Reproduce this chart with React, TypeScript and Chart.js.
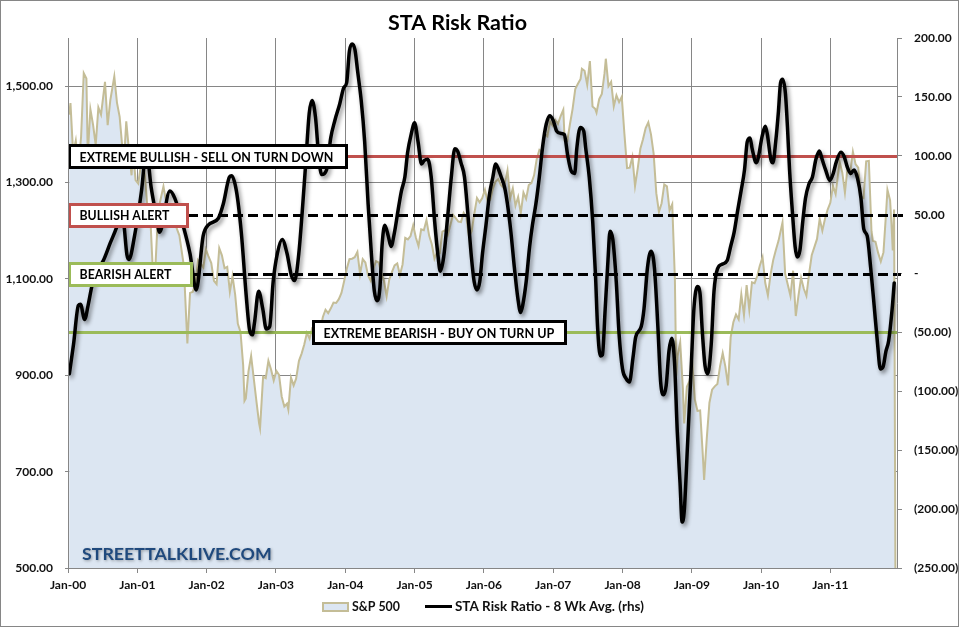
import React, { useEffect, useRef } from 'react';
import { Chart, registerables } from 'chart.js';

Chart.register(...registerables);

// ---------------- data ----------------
const TITLE = 'STA Risk Ratio';
const SP_LABEL = 'S&P 500';
const RISK_LABEL = 'STA Risk Ratio - 8 Wk Avg. (rhs)';
const WATERMARK = 'STREETTALKLIVE.COM';

const X_TICK_YEARS = [0, 1, 2, 3, 4, 5, 6, 7, 8, 9, 10, 11];
const X_TICK_LABELS = ['Jan-00', 'Jan-01', 'Jan-02', 'Jan-03', 'Jan-04', 'Jan-05', 'Jan-06', 'Jan-07', 'Jan-08', 'Jan-09', 'Jan-10', 'Jan-11'];
const LEFT_TICKS = [500, 700, 900, 1100, 1300, 1500];
const RIGHT_TICKS = [-250, -200, -150, -100, -50, 0, 50, 100, 150, 200];

const THRESHOLD_VALUES = [100, 50, 0, -50];
const THRESHOLD_LABELS = ['EXTREME BULLISH - SELL ON TURN DOWN', 'BULLISH ALERT', 'BEARISH ALERT', 'EXTREME BEARISH - BUY ON TURN UP'];

// S&P 500 (weekly closes, thinned)
const spDates = [
  '2000-01-07', '2000-01-14', '2000-01-28', '2000-02-11', '2000-02-25', '2000-03-10', '2000-03-24', '2000-04-07', '2000-04-14', '2000-04-28', '2000-05-12', '2000-05-26', '2000-06-09', '2000-06-23', '2000-07-14', '2000-07-28', '2000-08-11', '2000-09-01', '2000-09-15', '2000-09-29', '2000-10-13', '2000-10-27', '2000-11-03', '2000-11-17', '2000-12-01', '2000-12-08', '2000-12-22',
  '2001-01-05', '2001-01-26', '2001-02-09', '2001-02-23', '2001-03-09', '2001-03-23', '2001-04-06', '2001-04-20', '2001-05-18', '2001-06-01', '2001-06-15', '2001-06-29', '2001-07-13', '2001-07-27', '2001-08-10', '2001-08-31', '2001-09-07', '2001-09-21', '2001-10-05', '2001-10-19', '2001-11-02', '2001-11-16', '2001-12-14', '2001-12-28',
  '2002-01-11', '2002-01-25', '2002-02-08', '2002-02-22', '2002-03-08', '2002-03-22', '2002-04-05', '2002-04-19', '2002-05-03', '2002-05-17', '2002-05-31', '2002-06-14', '2002-06-28', '2002-07-12', '2002-07-19', '2002-07-26', '2002-08-09', '2002-08-23', '2002-09-06', '2002-09-20', '2002-10-04', '2002-10-09', '2002-10-25', '2002-11-08', '2002-11-22', '2002-12-06', '2002-12-20',
  '2003-01-03', '2003-01-17', '2003-01-31', '2003-02-14', '2003-02-28', '2003-03-07', '2003-03-21', '2003-04-04', '2003-04-17', '2003-05-02', '2003-05-16', '2003-05-30', '2003-06-13', '2003-06-27', '2003-07-11', '2003-07-25', '2003-08-08', '2003-08-22', '2003-09-05', '2003-09-19', '2003-10-03', '2003-10-17', '2003-10-31', '2003-11-14', '2003-11-28', '2003-12-12', '2003-12-26',
  '2004-01-09', '2004-01-23', '2004-02-06', '2004-02-20', '2004-03-05', '2004-03-19', '2004-04-02', '2004-04-16', '2004-04-30', '2004-05-14', '2004-05-28', '2004-06-11', '2004-06-25', '2004-07-09', '2004-07-23', '2004-08-06', '2004-08-20', '2004-09-03', '2004-09-17', '2004-10-01', '2004-10-15', '2004-10-29', '2004-11-12', '2004-11-26', '2004-12-10', '2004-12-24',
  '2005-01-07', '2005-01-21', '2005-02-04', '2005-02-18', '2005-03-04', '2005-03-18', '2005-04-01', '2005-04-15', '2005-04-29', '2005-05-13', '2005-05-27', '2005-06-10', '2005-06-24', '2005-07-08', '2005-07-22', '2005-08-05', '2005-08-19', '2005-09-02', '2005-09-16', '2005-09-30', '2005-10-14', '2005-10-28', '2005-11-11', '2005-11-25', '2005-12-09', '2005-12-23',
  '2006-01-06', '2006-01-20', '2006-02-03', '2006-02-17', '2006-03-03', '2006-03-17', '2006-03-31', '2006-04-14', '2006-04-28', '2006-05-05', '2006-05-19', '2006-06-02', '2006-06-16', '2006-06-30', '2006-07-14', '2006-07-28', '2006-08-11', '2006-08-25', '2006-09-08', '2006-09-22', '2006-10-06', '2006-10-20', '2006-11-03', '2006-11-17', '2006-12-01', '2006-12-15', '2006-12-29',
  '2007-01-12', '2007-01-26', '2007-02-09', '2007-02-23', '2007-03-02', '2007-03-16', '2007-03-30', '2007-04-13', '2007-04-27', '2007-05-11', '2007-05-25', '2007-06-01', '2007-06-15', '2007-06-29', '2007-07-13', '2007-07-27', '2007-08-10', '2007-08-17', '2007-08-31', '2007-09-14', '2007-09-28', '2007-10-05', '2007-10-19', '2007-11-02', '2007-11-16', '2007-11-30', '2007-12-14', '2007-12-28',
  '2008-01-11', '2008-01-25', '2008-02-08', '2008-02-22', '2008-03-07', '2008-03-21', '2008-04-04', '2008-04-18', '2008-05-02', '2008-05-16', '2008-05-30', '2008-06-13', '2008-06-27', '2008-07-11', '2008-07-25', '2008-08-08', '2008-08-22', '2008-09-05', '2008-09-19', '2008-10-03', '2008-10-10', '2008-10-17', '2008-10-31', '2008-11-14', '2008-11-21', '2008-12-05', '2008-12-19',
  '2009-01-02', '2009-01-16', '2009-01-30', '2009-02-13', '2009-02-27', '2009-03-06', '2009-03-20', '2009-04-03', '2009-04-17', '2009-05-01', '2009-05-15', '2009-05-29', '2009-06-12', '2009-06-26', '2009-07-10', '2009-07-24', '2009-08-07', '2009-08-21', '2009-09-04', '2009-09-18', '2009-10-02', '2009-10-16', '2009-10-30', '2009-11-13', '2009-11-27', '2009-12-11', '2009-12-24',
  '2010-01-08', '2010-01-22', '2010-02-05', '2010-02-19', '2010-03-05', '2010-03-19', '2010-04-02', '2010-04-23', '2010-05-07', '2010-05-21', '2010-06-04', '2010-06-18', '2010-07-02', '2010-07-16', '2010-07-30', '2010-08-13', '2010-08-27', '2010-09-10', '2010-09-24', '2010-10-08', '2010-10-22', '2010-11-05', '2010-11-19', '2010-12-03', '2010-12-17', '2010-12-31',
  '2011-01-14', '2011-01-28', '2011-02-18', '2011-03-04', '2011-03-18', '2011-04-01', '2011-04-15', '2011-04-29', '2011-05-13', '2011-05-27', '2011-06-10', '2011-06-24', '2011-07-08', '2011-07-22', '2011-08-05', '2011-08-12', '2011-08-26', '2011-09-09', '2011-09-23', '2011-10-07', '2011-10-21', '2011-10-28', '2011-11-11', '2011-11-18', '2011-11-25', '2011-12-02', '2011-12-09',
];
const spValues = [
  1441, 1465, 1360, 1387, 1333, 1395, 1527, 1516, 1357, 1452, 1420, 1378, 1456, 1441, 1509, 1419, 1471, 1520, 1466, 1437, 1374, 1379, 1427, 1367, 1315, 1370, 1305,
  1298, 1355, 1315, 1246, 1234, 1117, 1128, 1242, 1292, 1260, 1214, 1224, 1215, 1205, 1190, 1134, 1086, 966, 1071, 1073, 1087, 1139, 1124, 1161,
  1146, 1133, 1096, 1089, 1164, 1149, 1122, 1125, 1073, 1106, 1067, 1007, 990, 921, 847, 852, 908, 940, 893, 846, 800, 790, 897, 894, 930, 912, 889,
  909, 901, 856, 835, 841, 829, 895, 879, 893, 930, 945, 964, 988, 976, 998, 998, 977, 993, 1021, 1036, 1029, 1039, 1051, 1050, 1058, 1071, 1095,
  1121, 1141, 1142, 1145, 1156, 1110, 1141, 1134, 1107, 1096, 1121, 1137, 1134, 1112, 1096, 1064, 1099, 1114, 1128, 1132, 1108, 1130, 1185, 1182, 1189, 1211,
  1186, 1168, 1203, 1201, 1222, 1190, 1172, 1142, 1156, 1154, 1198, 1201, 1191, 1212, 1233, 1226, 1219, 1218, 1237, 1229, 1187, 1199, 1235, 1268, 1259, 1268,
  1285, 1261, 1264, 1288, 1302, 1307, 1295, 1289, 1311, 1325, 1267, 1288, 1252, 1270, 1236, 1279, 1266, 1295, 1299, 1315, 1349, 1368, 1364, 1401, 1396, 1427, 1418,
  1430, 1422, 1438, 1451, 1387, 1386, 1421, 1453, 1494, 1505, 1515, 1536, 1532, 1503, 1552, 1458, 1453, 1445, 1473, 1484, 1526, 1557, 1500, 1509, 1458, 1481, 1467, 1478,
  1401, 1330, 1331, 1353, 1293, 1329, 1370, 1390, 1413, 1425, 1400, 1360, 1278, 1239, 1257, 1296, 1292, 1242, 1255, 1099, 899, 940, 968, 873, 800, 876, 888,
  931, 850, 826, 827, 735, 683, 769, 843, 870, 877, 882, 919, 946, 918, 879, 979, 1010, 1026, 1016, 1068, 1025, 1087, 1036, 1093, 1091, 1106, 1127,
  1145, 1092, 1066, 1109, 1139, 1160, 1179, 1217, 1111, 1088, 1065, 1117, 1023, 1065, 1102, 1080, 1065, 1110, 1149, 1166, 1183, 1225, 1200, 1225, 1244, 1258,
  1293, 1276, 1343, 1321, 1279, 1332, 1320, 1364, 1338, 1331, 1271, 1268, 1344, 1345, 1199, 1179, 1177, 1154, 1136, 1155, 1238, 1285, 1263, 1216, 1159, 1244, 500,
];

// STA Risk Ratio 8-week average (years since Jan-2000 / value)
const riskTimes = [
  0.02, 0.08, 0.15, 0.18, 0.24, 0.29, 0.34, 0.39, 0.51, 0.61, 0.70, 0.76, 0.80, 0.85, 0.88, 0.96,
  1.06, 1.13, 1.20, 1.28, 1.32, 1.47, 1.54, 1.66, 1.76, 1.85, 1.95,
  2.02, 2.17, 2.24, 2.33, 2.36, 2.43, 2.50, 2.57, 2.62, 2.66, 2.69, 2.75, 2.81, 2.86, 2.91, 2.96,
  3.02, 3.09, 3.16, 3.22, 3.27, 3.33, 3.38, 3.43, 3.48, 3.52, 3.57, 3.62, 3.66, 3.73, 3.79, 3.85, 3.92, 3.98,
  4.02, 4.06, 4.10, 4.14, 4.18, 4.23, 4.28, 4.33, 4.38, 4.42, 4.46, 4.50, 4.53, 4.57, 4.62, 4.66, 4.71, 4.76, 4.81, 4.86, 4.90, 4.95,
  5.00, 5.05, 5.10, 5.14, 5.19, 5.24, 5.29, 5.34, 5.37, 5.42, 5.48, 5.53, 5.58, 5.62, 5.67, 5.72, 5.77, 5.82, 5.86, 5.90, 5.94, 5.98,
  6.03, 6.08, 6.13, 6.17, 6.20, 6.25, 6.30, 6.34, 6.39, 6.44, 6.49, 6.53, 6.56, 6.61, 6.66, 6.70, 6.75, 6.80, 6.85, 6.90, 6.95,
  7.00, 7.05, 7.11, 7.16, 7.21, 7.26, 7.31, 7.34, 7.39, 7.44, 7.47, 7.52, 7.57, 7.61, 7.64, 7.68, 7.71, 7.75, 7.79, 7.82, 7.86, 7.91, 7.95,
  8.00, 8.05, 8.10, 8.15, 8.19, 8.27, 8.31, 8.36, 8.41, 8.46, 8.51, 8.55, 8.59, 8.63, 8.67, 8.71, 8.75, 8.79, 8.83, 8.86, 8.89, 8.94, 8.99,
  9.03, 9.08, 9.12, 9.15, 9.19, 9.23, 9.28, 9.32, 9.37, 9.44, 9.51, 9.56, 9.61, 9.66, 9.71, 9.76, 9.80, 9.84, 9.87, 9.93,
  10.02, 10.06, 10.09, 10.14, 10.17, 10.21, 10.25, 10.28, 10.31, 10.35, 10.38, 10.41, 10.45, 10.49, 10.52, 10.56, 10.60, 10.64, 10.69, 10.74, 10.79, 10.84, 10.88, 10.93, 10.99,
  11.04, 11.08, 11.15, 11.20, 11.24, 11.29, 11.34, 11.39, 11.44, 11.48, 11.53, 11.58, 11.63, 11.68, 11.72, 11.76, 11.80, 11.84, 11.89, 11.92,
];
const riskValues = [
  -85, -60, -27, -26, -39, -27, -12, -1, 11, 26, 39, 50, 45, 16, 12, 32,
  70, 105, 73, 47, 35, 70, 64, 41, 17, -14, 32,
  41, 47, 59, 82, 83, 70, 35, -18, -48, -52, -42, -15, -30, -47, -45, -7,
  17, 29, 17, -1, -6, 17, 53, 94, 136, 147, 133, 97, 84, 88, 115, 130, 144, 158,
  162, 189, 195, 190, 171, 147, 112, 59, 14, -15, -23, -12, 23, 41, 32, 23, 35, 53, 70, 82, 103, 118,
  128, 112, 93, 96, 97, 82, 44, 14, 2, 14, 50, 82, 106, 104, 94, 82, 50, 14, -7, -14, -7, 17,
  41, 67, 82, 93, 90, 82, 73, 59, 35, 5, -21, -33, -27, -7, 23, 41, 59, 82, 109, 127, 134,
  130, 121, 119, 118, 100, 87, 85, 106, 124, 121, 106, 82, 44, -1, -45, -70, -69, -30, 11, 36, 29, -7, -51,
  -81, -89, -92, -72, -54, -45, -30, 5, 19, 5, -45, -92, -103, -95, -66, -55, -75, -134, -178, -211, -202, -143, -81,
  -30, -11, -18, -48, -78, -85, -60, -15, 4, 8, 11, 23, 35, 53, 70, 88, 112, 115, 106, 94,
  118, 125, 118, 97, 94, 112, 138, 162, 165, 153, 124, 88, 53, 23, 14, 20, 44, 64, 76, 82, 97, 104, 97, 88, 79,
  85, 94, 103, 99, 91, 85, 88, 81, 64, 38, 32, 5, -27, -60, -81, -79, -66, -57, -30, -8,
];

// ---------------- styles ----------------
const W = 965;
const H = 632;
const FONT = 'Lato, "Open Sans", sans-serif';
const TEXT = '#111111';
const GRID = '#868686';
const AREA_FILL = '#DCE6F2';
const AREA_LINE = '#C4BD97';
const X_MAX = 11.96;
const LINE_STYLES = [
  { color: '#C0504D', width: 3, dash: [] as number[], extend: 1 },
  { color: '#000000', width: 3, dash: [10, 5], extend: 6 },
  { color: '#000000', width: 3, dash: [10, 5], extend: 4 },
  { color: '#9BBB59', width: 3, dash: [] as number[], extend: 1 },
];
const BOX_STYLES = [
  { border: '#000000', offset: 0, width: 280, textWidth: 254 },
  { border: '#C0504D', offset: 0, width: 121, textWidth: 90 },
  { border: '#9BBB59', offset: 0, width: 125, textWidth: 92 },
  { border: '#000000', offset: 244, width: 255, textWidth: 231 },
];

function toYears(d: string) {
  const [y, m, dd] = d.split('-').map(Number);
  return (Date.UTC(y, m - 1, dd) - Date.UTC(2000, 0, 1)) / (365.25 * 86400000);
}

function fitFont(ctx: CanvasRenderingContext2D, text: string, target: number) {
  ctx.font = `bold 100px ${FONT}`;
  const size = (100 * target) / ctx.measureText(text).width;
  return `bold ${size.toFixed(2)}px ${FONT}`;
}

function leftFmt(v: number) {
  return v.toLocaleString('en-US', { minimumFractionDigits: 2, maximumFractionDigits: 2 });
}
function rightFmt(v: number) {
  if (v === 0) return '-';
  if (v < 0) return `(${Math.abs(v).toFixed(2)})`;
  return v.toFixed(2);
}

const overlayPlugin = {
  id: 'overlay',
  beforeDraw(chart: any) {
    const { ctx } = chart;
    ctx.save();
    ctx.fillStyle = '#ffffff';
    ctx.fillRect(0, 0, chart.width, chart.height);
    ctx.restore();
  },
  beforeDatasetDraw(chart: any, args: any) {
    if (args.index !== 0) return;
    const { ctx, chartArea: a, scales } = chart;
    ctx.save();
    THRESHOLD_VALUES.forEach((v, i) => {
      const st = LINE_STYLES[i];
      const y = Math.round(scales.y1.getPixelForValue(v)) + 0.5;
      ctx.beginPath();
      ctx.setLineDash(st.dash);
      ctx.strokeStyle = st.color;
      ctx.lineWidth = st.width;
      ctx.moveTo(a.left, y);
      ctx.lineTo(a.right + st.extend, y);
      ctx.stroke();
    });
    ctx.restore();
    ctx.save();
    ctx.shadowColor = 'rgba(0,0,0,0.45)';
    ctx.shadowBlur = 4;
    ctx.shadowOffsetX = 2;
    ctx.shadowOffsetY = 3;
  },
  afterDatasetDraw(chart: any, args: any) {
    if (args.index === 0) chart.ctx.restore();
  },
  afterDatasetsDraw(chart: any) {
    const { ctx, chartArea: a, scales } = chart;
    // watermark
    ctx.save();
    ctx.font = fitFont(ctx, WATERMARK, 190);
    ctx.textBaseline = 'middle';
    ctx.textAlign = 'left';
    ctx.shadowColor = 'rgba(0,0,0,0.35)';
    ctx.shadowBlur = 3;
    ctx.shadowOffsetX = 1;
    ctx.shadowOffsetY = 1;
    ctx.fillStyle = '#1F497D';
    ctx.fillText(WATERMARK, a.left + 14, a.bottom - 14);
    ctx.restore();
    // annotation boxes
    THRESHOLD_LABELS.forEach((label, i) => {
      const st = BOX_STYLES[i];
      const cy = Math.round(scales.y1.getPixelForValue(THRESHOLD_VALUES[i]));
      const x = a.left + st.offset;
      ctx.save();
      ctx.fillStyle = '#ffffff';
      ctx.fillRect(x, cy - 12, st.width, 25);
      ctx.strokeStyle = st.border;
      ctx.lineWidth = 3;
      ctx.strokeRect(x + 1.5, cy - 10.5, st.width - 3, 22);
      ctx.font = fitFont(ctx, label, st.textWidth);
      ctx.fillStyle = '#000000';
      ctx.textBaseline = 'middle';
      ctx.textAlign = 'left';
      ctx.fillText(label, x + 11.5, cy + 1.5);
      ctx.restore();
    });
  },
  afterDraw(chart: any) {
    const { ctx } = chart;
    ctx.save();
    // title
    ctx.font = fitFont(ctx, TITLE, 139);
    ctx.fillStyle = '#000000';
    ctx.textAlign = 'center';
    ctx.textBaseline = 'middle';
    ctx.fillText(TITLE, 457.5, 23);
    // legend
    const ly = 606.5;
    ctx.fillStyle = AREA_FILL;
    ctx.fillRect(323, 603, 25, 8);
    ctx.strokeStyle = AREA_LINE;
    ctx.lineWidth = 2;
    ctx.strokeRect(323, 603, 25, 8);
    ctx.font = fitFont(ctx, SP_LABEL, 48);
    ctx.fillStyle = TEXT;
    ctx.textAlign = 'left';
    ctx.fillText(SP_LABEL, 352, ly + 0.5);
    ctx.beginPath();
    ctx.strokeStyle = '#000000';
    ctx.lineWidth = 3;
    ctx.moveTo(425, ly);
    ctx.lineTo(452, ly);
    ctx.stroke();
    ctx.font = fitFont(ctx, RISK_LABEL, 189);
    ctx.fillText(RISK_LABEL, 455, ly + 0.5);
    // outer border
    ctx.strokeStyle = GRID;
    ctx.lineWidth = 1;
    ctx.strokeRect(0.5, 0.5, 958, 626);
    ctx.restore();
  },
};

export default function App() {
  const ref = useRef<HTMLCanvasElement | null>(null);

  useEffect(() => {
    if (!ref.current) return;
    const spData = spDates.map((d, i) => ({ x: toYears(d), y: spValues[i] }));
    const riskData = riskTimes.map((t, i) => ({ x: t, y: riskValues[i] }));
    const tickFont = { family: FONT, size: 12, weight: 'bold' as const };

    const chart = new Chart(ref.current, {
      type: 'line',
      data: {
        datasets: [
          {
            label: RISK_LABEL,
            data: riskData,
            yAxisID: 'y1',
            borderColor: '#000000',
            borderWidth: 3.5,
            pointRadius: 0,
            fill: false,
            cubicInterpolationMode: 'monotone',
            borderCapStyle: 'round',
            borderJoinStyle: 'round',
          },
          {
            label: SP_LABEL,
            data: spData,
            yAxisID: 'y',
            borderColor: AREA_LINE,
            backgroundColor: AREA_FILL,
            borderWidth: 2,
            pointRadius: 0,
            fill: 'start',
            tension: 0,
          },
        ],
      },
      options: {
        responsive: false,
        animation: false,
        devicePixelRatio: 1,
        layout: { padding: { top: 38, bottom: 34, left: 0, right: 0 } },
        plugins: {
          legend: { display: false },
          tooltip: { enabled: false },
          title: { display: false },
        },
        scales: {
          x: {
            type: 'linear',
            min: 0,
            max: X_MAX,
            afterBuildTicks: (s: any) => {
              s.ticks = X_TICK_YEARS.map((v) => ({ value: v }));
            },
            afterFit: (s: any) => {
              s.height = 30;
            },
            ticks: {
              autoSkip: false,
              maxRotation: 0,
              padding: 5,
              color: TEXT,
              font: tickFont,
              callback: (_v: any, i: number) => X_TICK_LABELS[i],
            },
            grid: { color: GRID, lineWidth: 1, tickLength: 5 },
            border: { color: GRID, z: 1 },
          },
          y: {
            type: 'linear',
            position: 'left',
            min: 500,
            max: 1600,
            afterBuildTicks: (s: any) => {
              s.ticks = LEFT_TICKS.map((v) => ({ value: v }));
            },
            afterFit: (s: any) => {
              s.width = 68;
            },
            ticks: { padding: 12, color: TEXT, font: tickFont, callback: (v: any) => leftFmt(Number(v)) },
            grid: { color: GRID, lineWidth: 1, tickLength: 3 },
            border: { color: GRID, z: 1 },
          },
          y1: {
            type: 'linear',
            position: 'right',
            min: -250,
            max: 200,
            afterBuildTicks: (s: any) => {
              s.ticks = RIGHT_TICKS.map((v) => ({ value: v }));
            },
            afterFit: (s: any) => {
              s.width = 68;
            },
            ticks: { padding: 12, color: TEXT, font: tickFont, callback: (v: any) => rightFmt(Number(v)) },
            grid: { drawOnChartArea: false, color: GRID, lineWidth: 1, tickLength: 5 },
            border: { color: GRID, z: 1 },
          },
        },
      },
      plugins: [overlayPlugin],
    } as any);

    return () => chart.destroy();
  }, []);

  return (
    <div style={{ position: 'fixed', left: 0, top: 0, width: W, height: H, background: '#ffffff' }}>
      <canvas ref={ref} width={W} height={H} style={{ display: 'block', width: W, height: H }} />
    </div>
  );
}
